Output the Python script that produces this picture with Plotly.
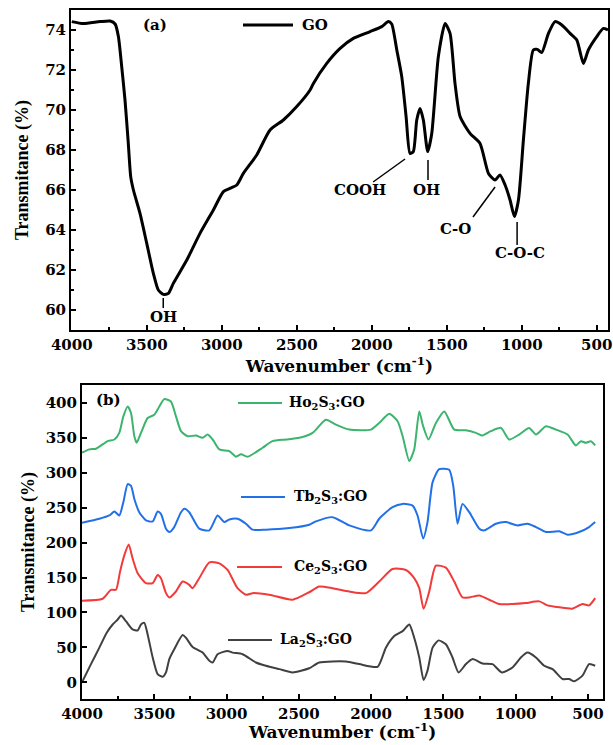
import plotly.graph_objects as go

# ---------- Panel (a): GO ----------
go_wn = [4000, 3923, 3811, 3744, 3711, 3689, 3667, 3645, 3623, 3607, 3589, 3545, 3500, 3456, 3423,
         3389, 3356, 3323, 3233, 3145, 3056, 2989, 2945, 2900, 2856, 2767, 2678, 2589, 2500, 2411,
         2389, 2300, 2211, 2123, 2011, 1933, 1889, 1867, 1833, 1800, 1771, 1745, 1723, 1700, 1678,
         1656, 1627, 1600, 1556, 1511, 1478, 1445, 1411, 1345, 1278, 1222, 1178, 1145, 1111, 1078,
         1049, 1022, 989, 956, 923, 896, 867, 822, 778, 733, 678, 633, 589, 556, 500, 456, 425]
go_t = [74.42, 74.32, 74.42, 74.45, 74.3, 73.67, 72.17, 70.5, 68.33, 66.67, 66.0, 64.83, 63.33, 61.83, 61.0,
        60.78, 60.83, 61.33, 62.5, 63.83, 65.0, 65.92, 66.08, 66.25, 66.83, 67.75, 69.0, 69.5, 70.17, 71.0,
        71.33, 72.33, 73.08, 73.58, 73.92, 74.17, 74.42, 74.3, 73.0, 71.67, 69.67, 67.83, 67.92, 69.5, 70.08,
        69.5, 67.92, 68.83, 72.67, 74.33, 73.83, 71.33, 69.67, 68.83, 68.33, 66.83, 66.5, 66.75, 66.25, 65.5,
        64.67, 65.5, 68.5, 71.33, 73.0, 73.03, 72.87, 73.83, 74.42, 74.25, 73.83, 73.5, 72.33, 73.0, 73.67, 74.08, 74.0]

# ---------- Panel (b) ----------
ho_wn = [4000, 3949, 3903, 3857, 3823, 3776, 3742, 3714, 3684, 3661, 3638, 3622, 3592, 3546, 3500, 3465,
         3431, 3385, 3350, 3315, 3269, 3212, 3166, 3131, 3096, 3050, 2981, 2935, 2900, 2854, 2751, 2682,
         2589, 2497, 2405, 2313, 2243, 2151, 2001, 1944, 1875, 1817, 1782, 1736, 1702, 1667, 1640, 1603,
         1552, 1494, 1425, 1344, 1275, 1234, 1172, 1102, 1045, 976, 907, 860, 791, 722, 641, 584, 549, 515, 480, 450]
ho_t = [329, 333.7, 334.7, 340.8, 345.5, 347.9, 357.4, 381, 395.3, 385.8, 352.6, 343.2, 357.4, 378.7, 383.4, 395.3,
        405.7, 402.4, 381, 359.8, 352.6, 353.6, 350.3, 355, 347.9, 333.7, 331.3, 323.3, 326.6, 323.3, 336.1, 345.5,
        347.9, 350.3, 357.4, 376.3, 369.2, 362.1, 362.1, 371.6, 384.8, 374, 352.6, 317.1, 333.7, 388.2, 366.9, 347.9,
        371.6, 388.2, 362.1, 361.2, 357.4, 353.6, 359.8, 364.5, 347.9, 355, 364.5, 355, 366.9, 362.1, 355, 339.4, 345.5, 343.2, 345.5, 339.4]

tb_wn = [4000, 3880, 3811, 3776, 3742, 3714, 3684, 3661, 3638, 3604, 3557, 3511, 3477, 3454, 3419, 3396,
         3362, 3315, 3292, 3258, 3189, 3119, 3062, 3016, 2981, 2924, 2866, 2820, 2728, 2566, 2428,
         2382, 2267, 2151, 2001, 1944, 1852, 1782, 1713, 1679, 1640, 1610, 1575, 1529, 1460, 1432, 1402,
         1368, 1321, 1252, 1218, 1137, 1068, 987, 918, 860, 791, 699, 641, 561, 492, 450]
tb_t = [228.6, 234.3, 239, 244.7, 239, 258, 284, 281.6, 262.7, 243.7, 231.9, 230.5, 244.7, 241.4, 220.1, 215.3,
        222.4, 243.7, 248.5, 243.7, 220.1, 217.7, 239, 229.5, 233.3, 234.3, 227.2, 218.7, 218.7, 221, 225.8,
        230.5, 236.6, 224.8, 217.7, 234.3, 250.9, 255.6, 253.2, 239, 205.9, 229.5, 286.4, 305.3, 304.4, 281.6, 227.2,
        255.6, 243.7, 220.1, 217.7, 227.2, 229.5, 224.8, 227.2, 222.4, 215.3, 216.3, 211.5, 215.3, 222.4, 229.5]

ce_wn = [4000, 3857, 3800, 3765, 3737, 3707, 3677, 3650, 3615, 3557, 3511, 3477, 3454, 3419, 3396, 3350,
         3304, 3258, 3235, 3189, 3119, 3050, 2993, 2924, 2866, 2820, 2705, 2543, 2428, 2359, 2267, 2151,
         2036, 1944, 1852, 1759, 1702, 1667, 1637, 1598, 1552, 1483, 1425, 1368, 1321, 1252, 1183, 1114,
         1022, 930, 837, 780, 699, 607, 538, 492, 450]
ce_t = [116.8, 119.7, 132.5, 132.5, 158.5, 182.2, 197.3, 177.5, 156.2, 142, 142, 153.8, 149.1, 127.7, 121.6, 130.1,
        144.3, 139.6, 134.8, 149.1, 171.8, 170.4, 160.9, 134.8, 125.4, 127.7, 125.4, 118.3, 129, 137.2, 134.8, 130.1,
        127.7, 144.3, 162.3, 160.9, 149.1, 134.8, 105.5, 130.1, 167, 164.2, 144.3, 121.6, 121.6, 124.4, 118.3, 112.1,
        112.1, 113.5, 115.9, 110.2, 107.4, 105.5, 112.1, 110.2, 120.6]

la_wn = [4000, 3938, 3880, 3829, 3788, 3753, 3730, 3696, 3650, 3615, 3592, 3569, 3546, 3511, 3477, 3442,
         3419, 3396, 3362, 3304, 3281, 3235, 3166, 3119, 3096, 3062, 2993, 2958, 2889, 2797, 2728, 2635,
         2543, 2428, 2359, 2174, 2082, 1955, 1898, 1840, 1782, 1736, 1702, 1667, 1637, 1610, 1575, 1533,
         1483, 1437, 1395, 1344, 1298, 1229, 1160, 1096, 1022, 964, 918, 860, 803, 745, 676, 630, 595, 538, 492, 450]
la_t = [0, 26, 49.6, 70.9, 82.8, 89.9, 95.5, 87.5, 75.7, 74.2, 82.8, 85.1, 68.6, 35.5, 11.8, 8,
        14.2, 33.2, 47.3, 67.6, 63.8, 50.6, 42.5, 30.7, 28.3, 40.2, 44.9, 42.5, 40.2, 28.3, 23.6, 18.8,
        14.1, 20, 28.3, 29.7, 26, 22.2, 49.6, 66.2, 73.3, 82.8, 63.8, 35.5, 3.3, 16.6, 49.6, 60,
        54.4, 35.5, 14.1, 26, 33.2, 26.9, 26, 14.1, 21.2, 35.5, 42.5, 35.5, 23.6, 18.8, 4.7, 4.7, 1.3, 9.4, 26, 23.6]

x_ticks = [4000, 3500, 3000, 2500, 2000, 1500, 1000, 500]
ya_ticks = [60, 62, 64, 66, 68, 70, 72, 74]
yb_ticks = [0, 50, 100, 150, 200, 250, 300, 350, 400]

W, H = 613, 745
TFONT = "DejaVu Serif"
LFONT = "Liberation Serif"
XTITLE = "Wavenumber (cm<sup>-1</sup>)"

fig = go.Figure()
fig.add_trace(go.Scatter(x=go_wn, y=go_t, mode="lines", name="GO",
                         line=dict(color="black", width=3, shape="spline", smoothing=0.6),
                         xaxis="x", yaxis="y"))
series_b = [("Ho<sub>2</sub>S<sub>3</sub>:GO", ho_wn, ho_t, "#3cb46e"),
            ("Tb<sub>2</sub>S<sub>3</sub>:GO", tb_wn, tb_t, "#2270e8"),
            ("Ce<sub>2</sub>S<sub>3</sub>:GO", ce_wn, ce_t, "#f23a3a"),
            ("La<sub>2</sub>S<sub>3</sub>:GO", la_wn, la_t, "#404040")]
for name, xs, ys, col in series_b:
    fig.add_trace(go.Scatter(x=xs, y=ys, mode="lines", name=name,
                             line=dict(color=col, width=2, shape="spline", smoothing=0.6),
                             xaxis="x2", yaxis="y2"))

tickfont = dict(family=TFONT, size=15, color="black", weight="bold")
xtitle_font = dict(family=TFONT, size=17, color="black", weight="bold")
ytitle_font = dict(family=LFONT, size=18, color="black", weight="bold")
common = dict(showgrid=False, zeroline=False, showline=True, linecolor="black", linewidth=2,
              mirror=True, ticks="inside", ticklen=5, tickwidth=1.5, tickcolor="black",
              tickfont=tickfont, automargin=False)

fig.update_layout(
    width=W, height=H, margin=dict(l=0, r=0, t=0, b=0, autoexpand=False),
    paper_bgcolor="white", plot_bgcolor="white", showlegend=False,
    xaxis=dict(domain=[71 / W, 608 / W], range=[4005, 425], tickvals=x_ticks, anchor="y",
               minor=dict(dtick=250, ticks="inside", ticklen=3, tickcolor="black"),
               title=dict(text=XTITLE, font=xtitle_font, standoff=2), **common),
    yaxis=dict(domain=[415 / H, 735 / H], range=[59, 75], tickvals=ya_ticks, anchor="x",
               minor=dict(dtick=1, ticks="inside", ticklen=3, tickcolor="black"),
               title=dict(text="Transmitance (%)", font=ytitle_font, standoff=12), **common),
    xaxis2=dict(domain=[82 / W, 603 / W], range=[4000, 396], tickvals=x_ticks, anchor="y2",
                minor=dict(dtick=250, ticks="inside", ticklen=3, tickcolor="black"), **common),
    yaxis2=dict(domain=[46 / H, 360 / H], range=[-24, 426], tickvals=yb_ticks, anchor="x2",
                title=dict(text="Transmitance (%)", font=ytitle_font, standoff=6), **common),
)

# bottom x-axis title placed explicitly (so it clears the tick labels)
fig.add_annotation(x=(82 + 603) / 2 / W, y=1 / H, xref="paper", yref="paper", text=XTITLE,
                   showarrow=False, font=xtitle_font, xanchor="center", yanchor="bottom")

ann_font = dict(family=TFONT, size=15, color="black", weight="bold")
lab_font = dict(family=TFONT, size=14, color="black", weight="bold")
annotations = [
    dict(x=3390, y=59.65, text="OH", xref="x", yref="y"),
    dict(x=2078, y=66.0, text="COOH", xref="x", yref="y"),
    dict(x=1638, y=66.0, text="OH", xref="x", yref="y"),
    dict(x=1445, y=64.05, text="C-O", xref="x", yref="y"),
    dict(x=1011, y=62.85, text="C-O-C", xref="x", yref="y"),
]
for a in annotations:
    a.update(showarrow=False, font=ann_font, xanchor="center", yanchor="middle")
    fig.add_annotation(**a)

# peak marker lines (data coordinates)
peak_lines = [((3390, 60.6), (3390, 60.1)),
              ((1991, 66.4), (1778, 67.55)),
              ((1625, 67.5), (1625, 66.5)),
              ((1325, 64.65), (1178, 66.15)),
              ((1031, 64.4), (1031, 63.25))]
for (x0, y0), (x1, y1) in peak_lines:
    fig.add_shape(type="line", xref="x", yref="y", x0=x0, y0=y0, x1=x1, y1=y1,
                  line=dict(color="black", width=1.5))

# panel labels
fig.add_annotation(x=155 / W, y=1 - 25 / H, xref="paper", yref="paper", text="(a)",
                   showarrow=False, font=ann_font, xanchor="center", yanchor="middle")
fig.add_annotation(x=108 / W, y=1 - 400 / H, xref="paper", yref="paper", text="(b)",
                   showarrow=False, font=ann_font, xanchor="center", yanchor="middle")

# legend entries (line sample + label)
legend_items = [("GO", "black", 3, 243, 293, 25, 300),
                (series_b[0][0], series_b[0][3], 2, 238, 282, 403, 287),
                (series_b[1][0], series_b[1][3], 2, 241, 285, 497, 292),
                (series_b[2][0], series_b[2][3], 2, 237, 282, 567, 292),
                (series_b[3][0], series_b[3][3], 2, 228, 272, 640, 278)]
for text, col, lw, lx0, lx1, ly, tx in legend_items:
    fig.add_shape(type="line", xref="paper", yref="paper", x0=lx0 / W, x1=lx1 / W,
                  y0=1 - ly / H, y1=1 - ly / H, line=dict(color=col, width=lw))
    fig.add_annotation(x=tx / W, y=1 - ly / H, xref="paper", yref="paper", text=text,
                       showarrow=False, font=lab_font if text != "GO" else ann_font,
                       xanchor="left", yanchor="middle")

fig.write_html("out.html", config={"displayModeBar": False},
               post_script="document.body.style.margin='0';document.body.style.overflow='hidden';")
